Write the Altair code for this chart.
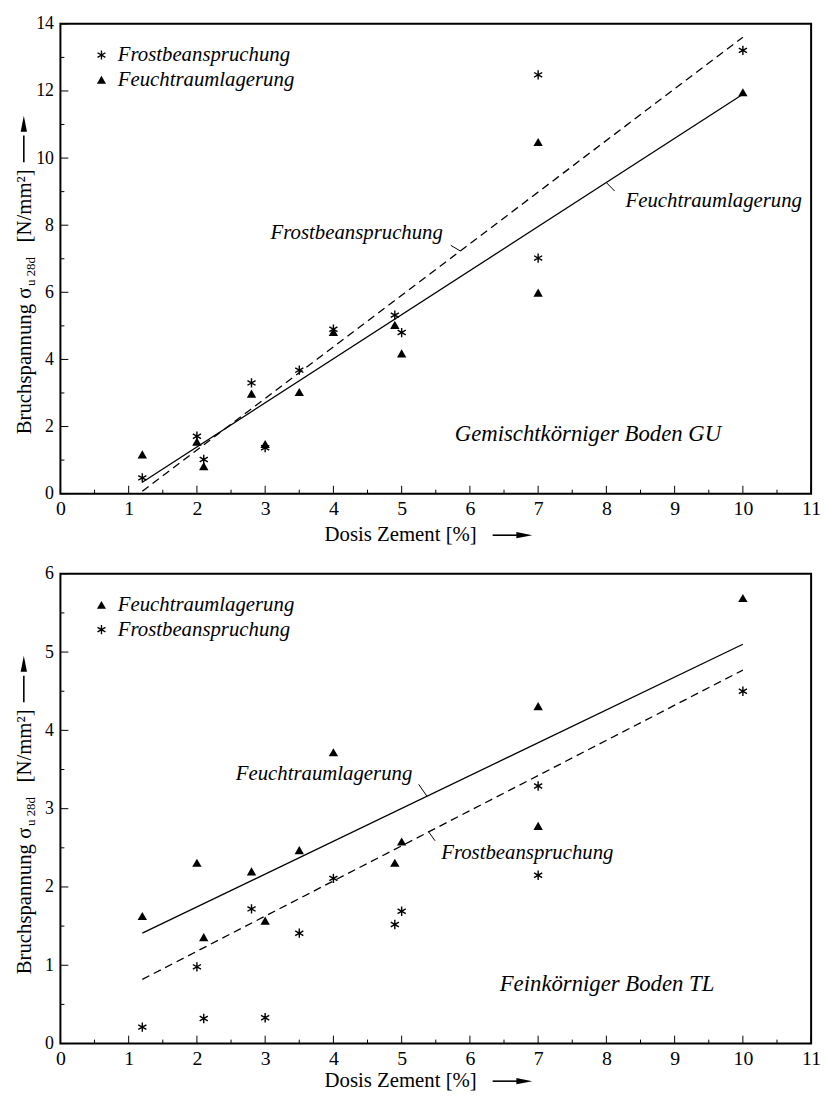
import altair as alt
import pandas as pd

SERIF = "Liberation Serif"
FROST = "Frostbeanspruchung"
FEUCHT = "Feuchtraumlagerung"

# Dosis Zement [%]
dose = [1.2, 2.0, 2.1, 2.8, 3.0, 3.5, 4.0, 4.9, 5.0, 7.0, 7.0, 10.0]

# Gemischtkörniger Boden GU
gu_frost = [0.47, 1.71, 1.02, 3.30, 1.37, 3.68, 4.90, 5.32, 4.80, 12.48, 7.02, 13.21]
gu_feucht = [1.17, 1.55, 0.82, 2.98, 1.48, 3.03, 4.82, 5.03, 4.18, 10.48, 5.99, 11.96]

# Feinkörniger Boden TL
tl_feucht = [1.63, 2.31, 1.36, 2.20, 1.57, 2.47, 3.72, 2.31, 2.58, 4.31, 2.78, 5.69]
tl_frost = [0.21, 0.98, 0.32, 1.72, 0.33, 1.41, 2.11, 1.52, 1.69, 3.29, 2.15, 4.50]

# Regressionsgeraden (Endpunkte)
fit_x = [1.2, 10.0]
gu_frost_fit = [0.07, 13.60]
gu_feucht_fit = [0.34, 11.90]
tl_feucht_fit = [1.41, 5.10]
tl_frost_fit = [0.82, 4.77]

# Beschriftungen der Geraden
gu_lab_text = [FROST, FEUCHT]
gu_lab_x = [3.08, 8.28]
gu_lab_y = [7.60, 8.55]
gu_lead_x = [5.72, 8.00]
gu_lead_y = [7.40, 9.27]
gu_lead_x2 = [5.86, 8.12]
gu_lead_y2 = [7.23, 9.02]

tl_lab_text = [FEUCHT, FROST]
tl_lab_x = [2.57, 5.58]
tl_lab_y = [3.36, 2.36]
tl_lead_x = [5.25, 5.39]
tl_lead_y = [3.31, 2.71]
tl_lead_x2 = [5.37, 5.49]
tl_lead_y2 = [3.16, 2.59]

# Achsen
x_major = list(range(0, 12))
x_minor = [i + 0.5 for i in range(0, 11)]
gu_y_major = [0, 2, 4, 6, 8, 10, 12, 14]
gu_y_minor = [1, 3, 5, 7, 9, 11, 13]
tl_y_major = [0, 1, 2, 3, 4, 5, 6]
tl_y_minor = [0.5, 1.5, 2.5, 3.5, 4.5, 5.5]

W, H = 759, 475
# filled six-armed asterisk (all sub-paths with the same winding)
ASTERISK = ("M-0.15,-1L-0.15,1L0.15,1L0.15,-1Z"
            "M0.791,0.630L0.941,0.370L-0.791,-0.630L-0.941,-0.370Z"
            "M0.941,-0.370L0.791,-0.630L-0.941,0.370L-0.791,0.630Z")
TRI = "triangle-up"
ARROW_UP = "M-0.4,1L0,-1L0.4,1Z"
ARROW_RIGHT = "M-1,-0.4L1,0L-1,0.4Z"


def one():
    return pd.DataFrame({"a": [0]})


def panel(ymax, y_major, y_minor, frost, feucht, frost_fit, feucht_fit,
          order, lab_text, lab_x, lab_y, lead_x, lead_y, lead_x2, lead_y2,
          panel_text, panel_x, panel_y, base, xt_off):
    xs = alt.Scale(domain=[0, 11], nice=False, zero=False)
    ys = alt.Scale(domain=[0, ymax], nice=False, zero=False)
    xax = alt.Axis(values=x_major, title=None, ticks=False, tickSize=0, domain=False,
                   grid=False, labelFont=SERIF, labelFontSize=20, labelColor="black",
                   labelPadding=5, labelFlush=False, labelOverlap=False)
    yax = alt.Axis(values=y_major, title=None, ticks=False, tickSize=0, domain=False,
                   grid=False, labelFont=SERIF, labelFontSize=18, labelColor="black",
                   labelPadding=7, labelFlush=False, labelOverlap=False)

    def X(f):
        return alt.X(f, type="quantitative", scale=xs, axis=xax)

    def Y(f):
        return alt.Y(f, type="quantitative", scale=ys, axis=yax)

    layers = []
    # Ticks (innen)
    layers.append(alt.Chart(pd.DataFrame({"x": x_major})).mark_rule(color="black", strokeWidth=1)
                  .encode(x=X("x"), y=alt.value(H), y2=alt.value(H - 8)))
    layers.append(alt.Chart(pd.DataFrame({"x": x_minor})).mark_rule(color="black", strokeWidth=1)
                  .encode(x=X("x"), y=alt.value(H), y2=alt.value(H - 4)))
    layers.append(alt.Chart(pd.DataFrame({"y": y_major})).mark_rule(color="black", strokeWidth=1)
                  .encode(y=Y("y"), x=alt.value(0), x2=alt.value(8)))
    layers.append(alt.Chart(pd.DataFrame({"y": y_minor})).mark_rule(color="black", strokeWidth=1)
                  .encode(y=Y("y"), x=alt.value(0), x2=alt.value(4)))

    # Geraden
    layers.append(alt.Chart(pd.DataFrame({"x": fit_x, "y": feucht_fit}))
                  .mark_line(color="black", strokeWidth=1.3)
                  .encode(x=X("x"), y=Y("y")))
    layers.append(alt.Chart(pd.DataFrame({"x": fit_x, "y": frost_fit}))
                  .mark_line(color="black", strokeWidth=1.3, strokeDash=[8, 5])
                  .encode(x=X("x"), y=Y("y")))

    # Hinweisstriche
    layers.append(alt.Chart(pd.DataFrame({"x": lead_x, "y": lead_y, "x2": lead_x2, "y2": lead_y2}))
                  .mark_rule(color="black", strokeWidth=1)
                  .encode(x=X("x"), y=Y("y"), x2="x2:Q", y2="y2:Q"))

    # Messpunkte
    pts = pd.DataFrame({
        "x": dose + dose,
        "y": frost + feucht,
        "series": [FROST] * len(dose) + [FEUCHT] * len(dose),
    })
    shape_range = [ASTERISK if s == FROST else TRI for s in order]
    layers.append(alt.Chart(pts).mark_point(filled=True, fill="black", strokeWidth=0,
                                            opacity=1, size=90)
                  .encode(x=X("x"), y=Y("y"),
                          shape=alt.Shape("series:N",
                                          scale=alt.Scale(domain=order, range=shape_range),
                                          legend=alt.Legend(title=None, orient="none",
                                                            legendX=31, legendY=21,
                                                            labelFont=SERIF, labelFontStyle="italic",
                                                            labelFontSize=21, labelColor="black",
                                                            labelLimit=0,
                                                            symbolSize=85, symbolFillColor="black",
                                                            symbolStrokeWidth=0, rowPadding=3,
                                                            padding=0, labelOffset=6))))

    # Beschriftungen
    layers.append(alt.Chart(pd.DataFrame({"x": lab_x, "y": lab_y, "t": lab_text}))
                  .mark_text(align="left", baseline="alphabetic", font=SERIF, fontStyle="italic",
                             fontSize=21, color="black")
                  .encode(x=X("x"), y=Y("y"), text="t:N"))
    layers.append(alt.Chart(pd.DataFrame({"x": [panel_x], "y": [panel_y], "t": [panel_text]}))
                  .mark_text(align="center", baseline="alphabetic", font=SERIF, fontStyle="italic",
                             fontSize=23, color="black")
                  .encode(x=X("x"), y=Y("y"), text="t:N"))

    # Achsentitel y
    def ytxt(t, xpos, ypos, fs):
        return (alt.Chart(one()).mark_text(text=t, angle=270, align="left", baseline="alphabetic",
                                           font=SERIF, fontSize=fs, color="black")
                .encode(x=alt.value(xpos), y=alt.value(ypos)))

    layers.append(ytxt("Bruchspannung", -30, base, 21))
    layers.append(ytxt("σ", -30, base - 137, 21))
    layers.append(ytxt("u 28d", -26, base - 150, 13))
    layers.append(ytxt("[N/mm²]", -30, base - 194, 21))
    layers.append(alt.Chart(one()).mark_rule(color="black", strokeWidth=1.6)
                  .encode(x=alt.value(-37), y=alt.value(base - 275), y2=alt.value(base - 302)))
    layers.append(alt.Chart(one()).mark_point(shape=ARROW_UP, size=256, filled=True, fill="black",
                                              opacity=1, strokeWidth=0)
                  .encode(x=alt.value(-37), y=alt.value(base - 314)))

    # Achsentitel x
    layers.append(alt.Chart(one()).mark_text(text="Dosis Zement [%]", align="center", baseline="middle",
                                             font=SERIF, fontSize=21, color="black")
                  .encode(x=alt.value(344), y=alt.value(H + xt_off)))
    layers.append(alt.Chart(one()).mark_rule(color="black", strokeWidth=1.6)
                  .encode(x=alt.value(437), x2=alt.value(463), y=alt.value(H + xt_off)))
    layers.append(alt.Chart(one()).mark_point(shape=ARROW_RIGHT, size=256, filled=True, fill="black",
                                              opacity=1, strokeWidth=0)
                  .encode(x=alt.value(469), y=alt.value(H + xt_off)))

    return alt.layer(*layers).properties(width=W, height=H)


top = panel(14, gu_y_major, gu_y_minor, gu_frost, gu_feucht, gu_frost_fit, gu_feucht_fit,
            [FROST, FEUCHT], gu_lab_text, gu_lab_x, gu_lab_y,
            gu_lead_x, gu_lead_y, gu_lead_x2, gu_lead_y2,
            "Gemischtkörniger Boden GU", 7.73, 1.57, 415, 42)

bottom = panel(6, tl_y_major, tl_y_minor, tl_frost, tl_feucht, tl_frost_fit, tl_feucht_fit,
               [FEUCHT, FROST], tl_lab_text, tl_lab_x, tl_lab_y,
               tl_lead_x, tl_lead_y, tl_lead_x2, tl_lead_y2,
               "Feinkörniger Boden TL", 8.01, 0.67, 405, 38)

chart = (alt.vconcat(top, bottom, spacing=18)
         .resolve_scale(x="independent", y="independent", shape="independent")
         .resolve_legend(shape="independent")
         .properties(padding={"left": 5, "top": 0, "right": 0, "bottom": 0}, background="white")
         .configure_view(stroke="black", strokeWidth=2))

chart.save("out.html", embed_options={"renderer": "svg", "actions": False})
